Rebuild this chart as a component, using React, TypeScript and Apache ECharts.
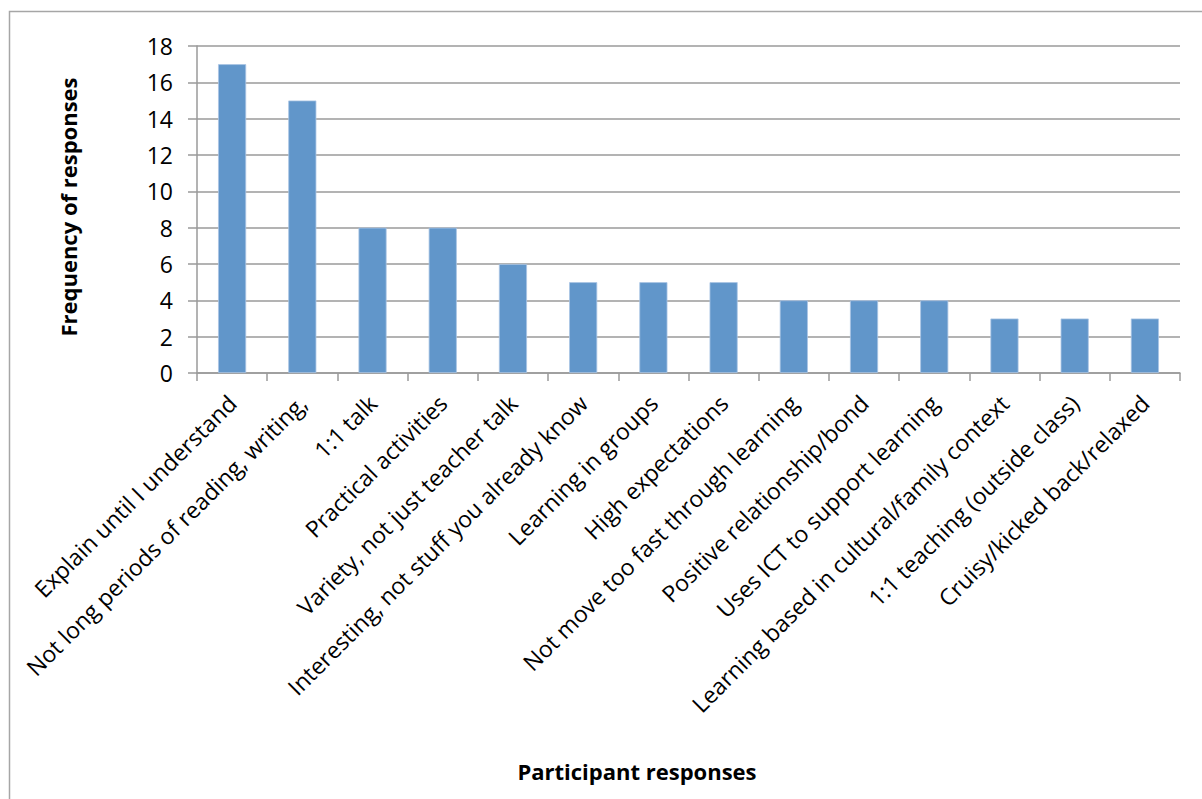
import React, { useEffect, useRef } from "react";
import * as echarts from "echarts";

const categories = [
  "Explain until I understand",
  "Not long periods of reading, writing,",
  "1:1 talk",
  "Practical activities",
  "Variety, not just teacher talk",
  "Interesting, not stuff you already know",
  "Learning in groups",
  "High expectations",
  "Not move too fast through learning",
  "Positive relationship/bond",
  "Uses ICT to support learning",
  "Learning based in cultural/family context",
  "1:1 teaching (outside class)",
  "Cruisy/kicked back/relaxed",
];
const values = [17, 15, 8, 8, 6, 5, 5, 5, 4, 4, 4, 3, 3, 3];
const yTicks = [0, 2, 4, 6, 8, 10, 12, 14, 16, 18];

const FONT = "'Open Sans', 'Noto Sans', sans-serif";

export default function App() {
  const ref = useRef<HTMLDivElement>(null);
  useEffect(() => {
    if (!ref.current) return;
    const chart = echarts.init(ref.current, null, { renderer: "svg" });
    chart.setOption({
      animation: false,
      backgroundColor: "#ffffff",
      grid: { left: 197, top: 46, right: 22, bottom: 426, containLabel: false },
      xAxis: {
        type: "category",
        data: categories,
        axisLine: { lineStyle: { color: "#9a9a9a", width: 1.5 } },
        axisTick: { show: true, length: 8, lineStyle: { color: "#9a9a9a", width: 1.5 } },
        axisLabel: {
          rotate: 45,
          interval: 0,
          color: "#000",
          fontFamily: FONT,
          fontSize: 23,
          margin: 26,
        },
      },
      yAxis: {
        type: "value",
        min: yTicks[0],
        max: yTicks[yTicks.length - 1],
        interval: 2,
        axisLine: { show: true, lineStyle: { color: "#9a9a9a", width: 1.5 } },
        axisTick: { show: true, length: 9, lineStyle: { color: "#9a9a9a", width: 1.5 } },
        splitLine: { show: true, lineStyle: { color: "#9a9a9a", width: 1.5 } },
        axisLabel: { color: "#000", fontFamily: FONT, fontSize: 23, margin: 24 },
      },
      series: [
        {
          type: "bar",
          data: values,
          barWidth: "40%",
          itemStyle: { color: "#6196ca", borderColor: "#a9c4e4", borderWidth: 0.8 },
        },
      ],
      graphic: [
        {
          type: "rect",
          shape: { x: 9.5, y: 11.5, width: 1300, height: 900 },
          style: { fill: "none", stroke: "#a6a6a6", lineWidth: 1.5 },
          silent: true,
        },
        {
          type: "text",
          x: 68,
          y: 207,
          rotation: Math.PI / 2,
          style: {
            text: "Frequency of responses",
            font: `bold 22px ${FONT}`,
            fill: "#000",
            align: "center",
            verticalAlign: "middle",
          },
        },
        {
          type: "text",
          x: 637,
          y: 771,
          style: {
            text: "Participant responses",
            font: `bold 22px ${FONT}`,
            fill: "#000",
            align: "center",
            verticalAlign: "middle",
          },
        },
      ],
    });
    return () => chart.dispose();
  }, []);
  return (
    <div
      ref={ref}
      style={{ position: "fixed", left: 0, top: 0, width: 1202, height: 799 }}
    />
  );
}
